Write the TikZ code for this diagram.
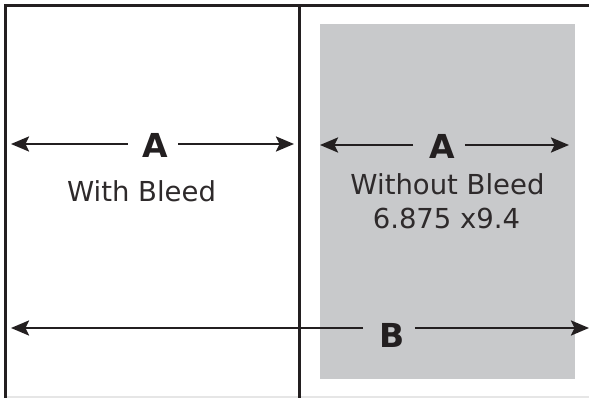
\documentclass[tikz,border=0pt]{standalone}
\usepackage{fontspec}
\setmainfont{DejaVu Sans}
\usetikzlibrary{arrows.meta}
\definecolor{ink}{HTML}{231F20}
\definecolor{trim}{HTML}{C8C9CB}
\definecolor{edge}{HTML}{E6E6E6}
\tikzset{
  frame/.style={draw=ink, line width=3pt},
  dim/.style={draw=ink, line width=2.5pt, -{Stealth[length=18pt,width=15pt,inset=3.5pt]}},
  letter/.style={text=ink, font=\fontsize{33}{33}\selectfont\bfseries, inner sep=0pt, anchor=base},
  caption/.style={text=ink!95, font=\fontsize{27.5}{30}\selectfont, inner sep=0pt, anchor=base}
}
\begin{document}
\begin{tikzpicture}[x=1pt,y=-1pt]
\useasboundingbox (0,0) rectangle (589,398);
% trim area
\fill[trim] (320,24) rectangle (575,379);
% bottom faint edge
\draw[edge, line width=1.5pt] (5,397) -- (589,397);
% frame
\draw[frame] (5,398) -- (5,6) -- (589,6);
\draw[frame] (299,6) -- (299,398);
% labels
\node[letter] (A1) at (155.5,158) {A};
\node[letter] (A2) at (442,159) {A};
\node[letter] (B) at (392,347) {B};
\node[caption] (wb) at (141.5,202) {With Bleed};
\node[caption] (wob) at (447.5,195) {Without Bleed};
\node[caption] (size) at (446.5,229) {6.875 x9.4};
% arrow ends
\coordinate (a1l) at (11,144);
\coordinate (a1r) at (294,144);
\coordinate (a2l) at (320,145);
\coordinate (a2r) at (569,145);
\coordinate (bl) at (11,328);
\coordinate (br) at (589,328);
% dimension arrows
\draw[dim] ([xshift=-15pt]A1.west |- a1l) -- (a1l);
\draw[dim] ([xshift=10pt]A1.east |- a1r) -- (a1r);
\draw[dim] ([xshift=-16pt]A2.west |- a2l) -- (a2l);
\draw[dim] ([xshift=10pt]A2.east |- a2r) -- (a2r);
\draw[dim] ([xshift=-16pt]B.west |- bl) -- (bl);
\draw[dim] ([xshift=10pt]B.east |- br) -- (br);
\end{tikzpicture}
\end{document}
